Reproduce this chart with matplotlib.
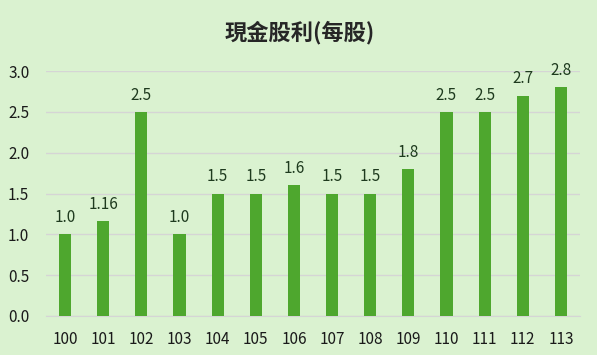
import matplotlib
matplotlib.use("Agg")
import matplotlib.pyplot as plt
import numpy as np

plt.rcParams['font.family'] = ['Noto Sans CJK TC', 'DejaVu Sans']

years = ['100', '101', '102', '103', '104', '105', '106', '107', '108', '109', '110', '111', '112', '113']
dividends = [1.0, 1.16, 2.5, 1.0, 1.5, 1.5, 1.6, 1.5, 1.5, 1.8, 2.5, 2.5, 2.7, 2.8]
labels = ['1.0', '1.16', '2.5', '1.0', '1.5', '1.5', '1.6', '1.5', '1.5', '1.8', '2.5', '2.5', '2.7', '2.8']
yticks = [0.0, 0.5, 1.0, 1.5, 2.0, 2.5, 3.0]

bg = '#DAF2D0'
fig = plt.figure(figsize=(5.97, 3.55), dpi=100, facecolor=bg)
ax = fig.add_axes([46/597, 1-316/355, (580-46)/597, (316-71)/355])
ax.set_facecolor(bg)

x = np.arange(len(years))
ax.bar(x, dividends, width=0.32, color='#4EA72E', zorder=3)
for xi, v, lab in zip(x, dividends, labels):
    ax.text(xi, v + 0.1, lab, ha='center', va='bottom', fontsize=11, color='#1E3A1E')

ax.set_xlim(-0.5, len(years) - 0.5)
ax.set_ylim(0, 3.0)
ax.set_yticks(yticks)
ax.set_yticklabels([f'{t:.1f}' for t in yticks])
ax.set_xticks(x)
ax.set_xticklabels(years)
ax.tick_params(axis='both', length=0, labelsize=11, colors='#1a1a1a')
ax.tick_params(axis='y', pad=12)
ax.tick_params(axis='x', pad=11)
ax.grid(axis='y', color='#D5D5D5', linewidth=1, zorder=0)
for s in ['top', 'right', 'left']:
    ax.spines[s].set_visible(False)
ax.spines['bottom'].set_color('#D5D5D5')
fig.text(0.502, 1 - 33/355, '現金股利(每股)', fontsize=16, fontweight='bold', color='#262626',
         ha='center', va='center')

fig.savefig('out.png', dpi=100, facecolor=bg)
